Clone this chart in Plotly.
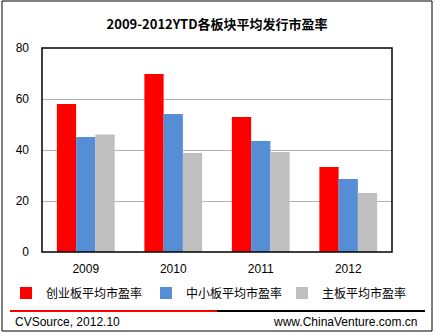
import plotly.graph_objects as go

years = ["2009", "2010", "2011", "2012"]
s_names = ["创业板平均市盈率", "中小板平均市盈率", "主板平均市盈率"]
gem = [58.0, 69.8, 52.9, 33.3]
sme = [45.1, 54.1, 43.5, 28.6]
main = [46.1, 38.8, 39.2, 23.1]
colors = ["#FF0000", "#558ED5", "#BFBFBF"]
yticks = [0, 20, 40, 60, 80]

CJK = "Noto Sans CJK SC"
LAT = "Liberation Sans"

W, H = 435, 335
L, R, T, B = 42, 392, 48, 252

def px(x):
    return (x - L) / (R - L)

def py(y):
    return (B - y) / (B - T)

legend_ids = ["legend", "legend2", "legend3"]
legend_x = [6, 146, 282]

fig = go.Figure()
for name, vals, c, lid in zip(s_names, [gem, sme, main], colors, legend_ids):
    fig.add_trace(go.Bar(x=years, y=vals, name=name, legend=lid, showlegend=True,
                         marker=dict(color=c, line=dict(width=0))))

shapes = [
    dict(type="rect", xref="paper", yref="paper", x0=px(2), x1=px(432), y0=py(331), y1=py(1),
         line=dict(color="black", width=1)),
    dict(type="rect", xref="paper", yref="paper", x0=0, x1=1, y0=0, y1=1,
         line=dict(color="black", width=1.5)),
    dict(type="line", xref="paper", yref="paper", x0=px(10), x1=px(217), y0=py(311), y1=py(311),
         line=dict(color="#FF0000", width=2)),
    dict(type="line", xref="paper", yref="paper", x0=px(217), x1=px(425), y0=py(311), y1=py(311),
         line=dict(color="black", width=2)),
]

annotations = [
    dict(text="CVSource, 2012.10", xref="paper", yref="paper", x=px(13), y=py(322),
         xanchor="left", yanchor="middle", showarrow=False,
         font=dict(family=LAT, size=12, color="black")),
    dict(text="www.ChinaVenture.com.cn", xref="paper", yref="paper", x=px(419), y=py(322),
         xanchor="right", yanchor="middle", showarrow=False,
         font=dict(family=LAT, size=12, color="black")),
]

leg_common = dict(orientation="h", xanchor="left", xref="container", yref="container",
                  y=1 - 293 / H, yanchor="middle",
                  itemwidth=30, font=dict(family=CJK, size=12, color="black"),
                  bgcolor="rgba(0,0,0,0)")

fig.update_layout(
    width=W, height=H, showlegend=True,
    margin=dict(l=L, r=W - R, t=T, b=H - B, pad=0, autoexpand=False),
    paper_bgcolor="white", plot_bgcolor="white",
    barmode="group", bargap=0.34, bargroupgap=0,
    title=dict(text="<b>2009-2012YTD各板块平均发行市盈率</b>", x=0.5, xanchor="center",
               xref="paper", y=1 - 24 / H, yref="container", yanchor="middle",
               font=dict(family=CJK, size=13, color="black")),
    xaxis=dict(showgrid=False, showline=False, ticks="", ticklabelstandoff=8,
               tickfont=dict(family=LAT, size=12, color="black")),
    yaxis=dict(range=[0, 80], tickvals=yticks, showgrid=True, gridcolor="#B3B3B3", gridwidth=1,
               showline=False, zeroline=False, ticks="", ticklabelstandoff=12,
               tickfont=dict(family=LAT, size=12, color="black")),
    legend=dict(x=legend_x[0] / W, **leg_common),
    legend2=dict(x=legend_x[1] / W, **leg_common),
    legend3=dict(x=legend_x[2] / W, **leg_common),
    shapes=shapes,
    annotations=annotations,
)

fig.write_html("out.html")
